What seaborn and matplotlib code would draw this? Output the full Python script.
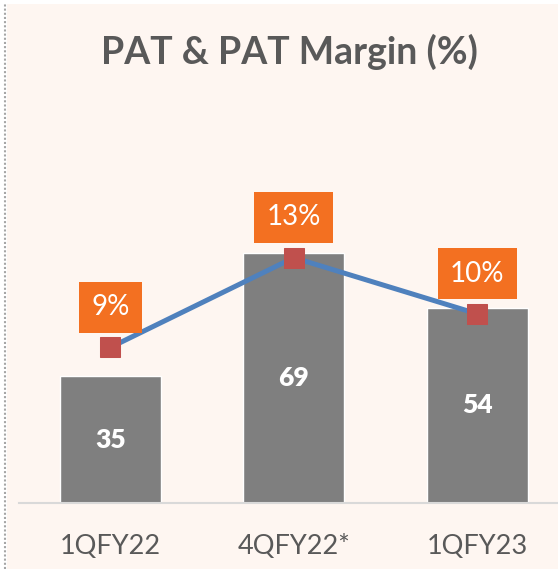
import numpy as np
import pandas as pd
import seaborn as sns
import matplotlib
matplotlib.use('Agg')
import matplotlib.pyplot as plt
from matplotlib.patches import Rectangle
from matplotlib.lines import Line2D

# data
quarters = ['1QFY22', '4QFY22*', '1QFY23']
pat = [35, 69, 54]
pat_margin = [9.0, 13.0, 10.5]
margin_labels = ['9%', '13%', '10%']

title = 'PAT & PAT Margin (%)'

sns.set_theme(style='white')
plt.rcParams['font.family'] = ['Lato', 'DejaVu Sans']

W, H = 558, 569
fig = plt.figure(figsize=(W / 100, H / 100), dpi=100, facecolor='white')

# peach panel + dotted left border
fig.patches.append(Rectangle((7 / W, 0), 1 - 7 / W, 1 - 4 / H, transform=fig.transFigure,
                             facecolor='#FEF6F1', edgecolor='none', zorder=-2))
fig.lines.append(Line2D([4.5 / W, 4.5 / W], [0, 1 - 4 / H], transform=fig.transFigure,
                        color='#A6A6A6', lw=1.5, ls=(0, (1, 1)), zorder=-1))

# axes: baseline at y=503 px, top at y=141 px, left at x=18.5 px
ax = fig.add_axes([18.5 / W, (H - 503) / H, 1 - 18.5 / W, (503 - 141) / H])
ax.set_facecolor('none')

df = pd.DataFrame({'quarter': quarters, 'pat': pat})
sns.barplot(data=df, x='quarter', y='pat', order=quarters, color='#7F7F7F',
            saturation=1, width=0.55, ax=ax)
ax.set_ylim(0, 100)
ax.set_xlim(-0.5, 2.44)
ax.bar_label(ax.containers[0], labels=[str(v) for v in pat], label_type='center',
             color='white', fontsize=19, fontweight='heavy')

ax.set_xlabel('')
ax.set_ylabel('')
ax.set_yticks([])
ax.tick_params(axis='x', length=0, pad=22, labelsize=19.5, labelcolor='#595959')
for s in ['left', 'right', 'top']:
    ax.spines[s].set_visible(False)
ax.spines['bottom'].set_color('#D9D9D9')
ax.spines['bottom'].set_linewidth(1.5)

# margin line on secondary axis
ax2 = ax.twinx()
ax2.set_facecolor('none')
xs = np.arange(len(quarters))
sns.lineplot(x=xs, y=pat_margin, ax=ax2, color='#4F81BD', linewidth=3.6,
             marker='s', markersize=15, markerfacecolor='#C0504D',
             markeredgecolor='#C0504D', sort=False)
ax2.set_ylim(2.07, 18.2)
ax2.set_xlim(-0.5, 2.44)
ax2.set_yticks([])
ax2.set_ylabel('')
for s in ['left', 'right', 'top', 'bottom']:
    ax2.spines[s].set_visible(False)

for x, v, lab in zip(xs, pat_margin, margin_labels):
    ax2.annotate(lab, (x, v), xytext=(0, 29), textcoords='offset points',
                 ha='center', va='center', color='white', fontsize=20,
                 bbox=dict(boxstyle='square,pad=0.45', facecolor='#F37021',
                           edgecolor='none'))

fig.text(289 / W, 1 - 52 / H, title, ha='center', va='center', fontsize=27,
         fontweight='bold', color='#595959')

fig.savefig('out.png', dpi=100, facecolor=fig.get_facecolor())
